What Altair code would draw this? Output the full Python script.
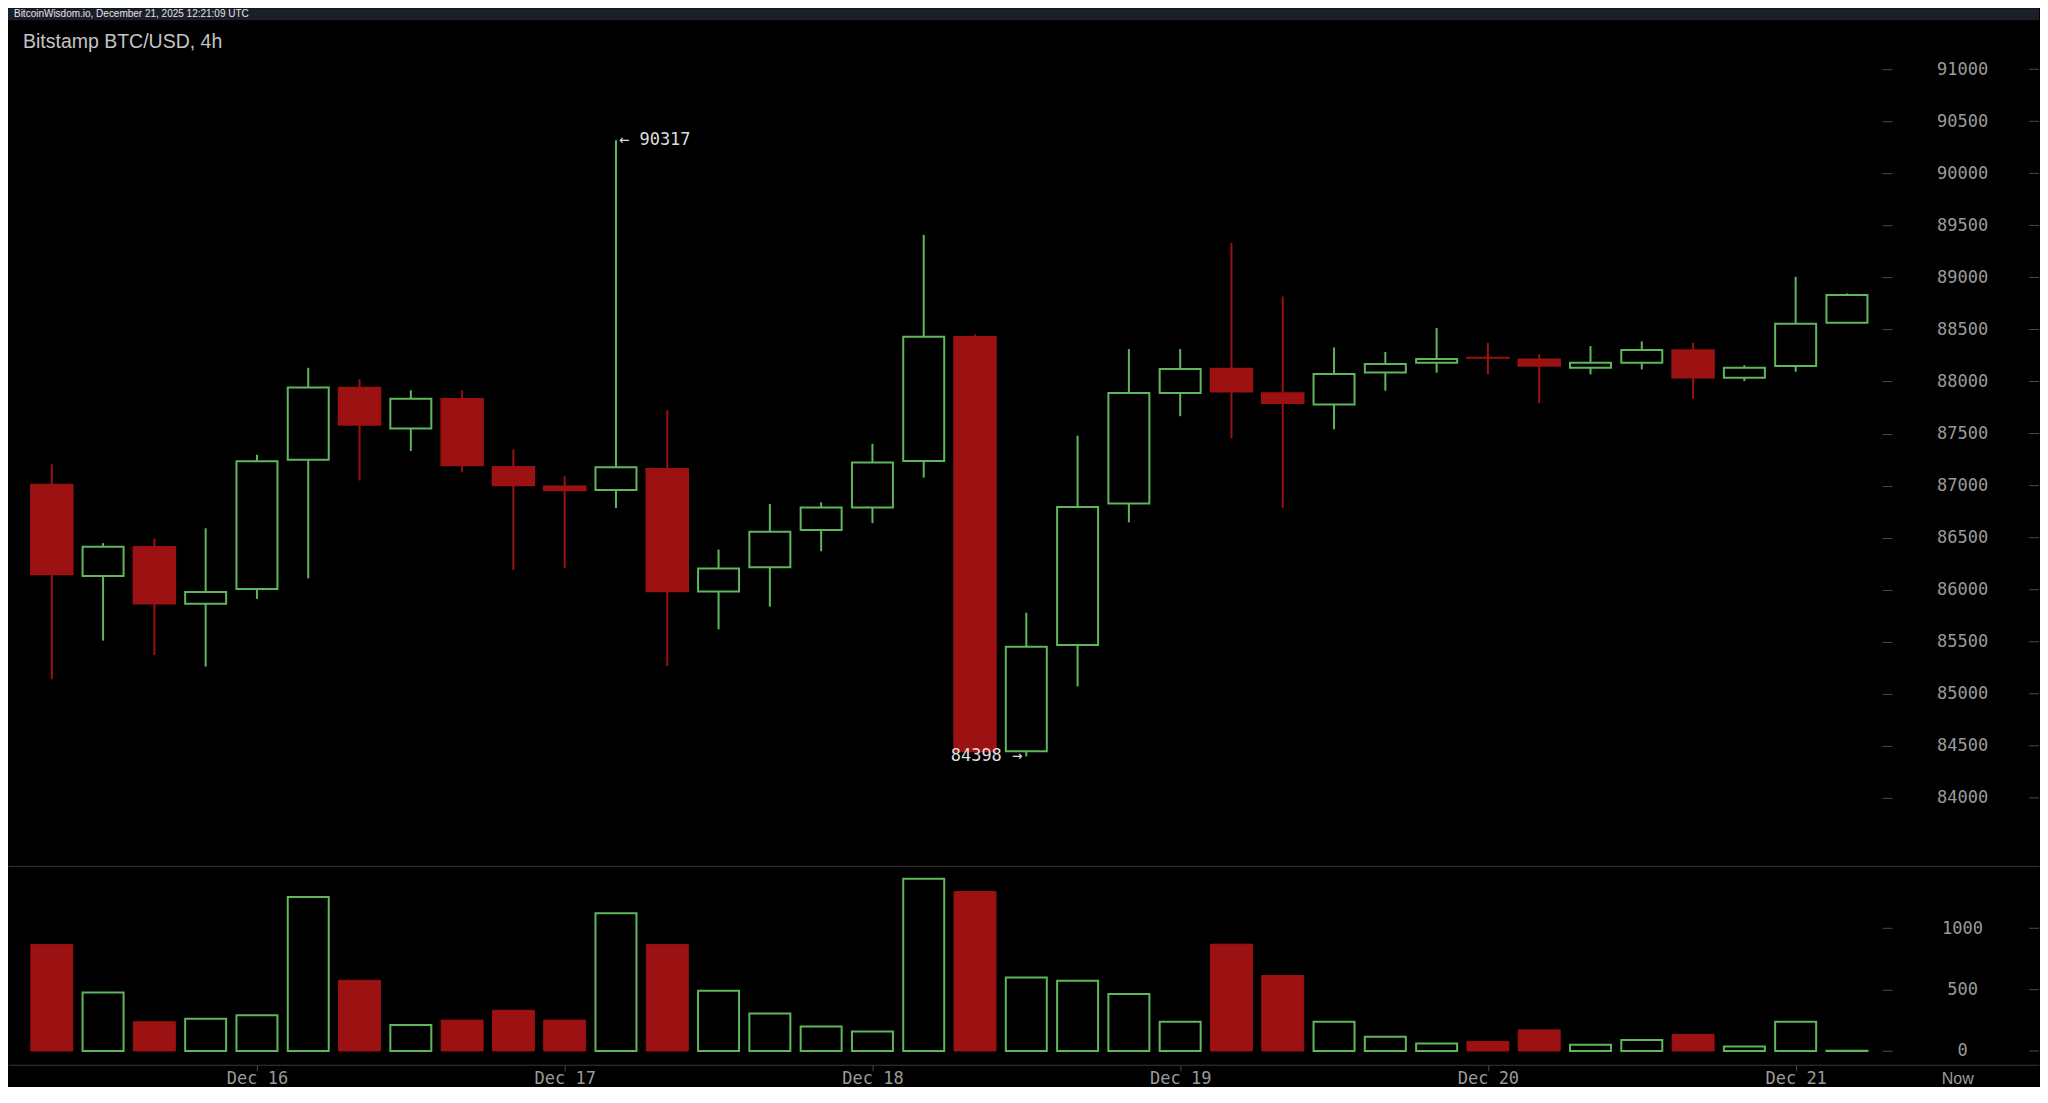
import altair as alt
import pandas as pd

header_text = "BitcoinWisdom.io, December 21, 2025 12:21:09 UTC"
title_text = "Bitstamp BTC/USD, 4h"

# 4h candles, Dec 15 08:00 ... Dec 21 04:00 (UTC)
opens = [87010, 86131, 86413, 85864, 86007, 87249, 87942, 87550, 87835, 87181,
         86994, 86957, 87161, 85982, 86215, 86573, 86790, 87236, 88430, 84449,
         85468, 86828, 87890, 88125, 87890, 87780, 88088, 88180, 88232, 88213,
         88133, 88181, 88303, 88037, 88149, 88565]
highs = [87205, 86447, 86491, 86590, 87297, 88132, 88022, 87916, 87916, 87348,
         87090, 90317, 87723, 86386, 86824, 86840, 87402, 89409, 88452, 85779,
         87480, 88312, 88312, 89331, 88817, 88327, 88283, 88514, 88373, 88261,
         88341, 88386, 88373, 88156, 89007, 88847]
lows = [85141, 85511, 85372, 85262, 85912, 86109, 87050, 87333, 87131, 86190,
        86211, 86786, 85266, 85620, 85837, 86370, 86640, 87077, 84430, 84398,
        85071, 86648, 87667, 87454, 86788, 87542, 87912, 88085, 88069, 87791,
        88069, 88117, 87835, 88005, 88094, 88565]
closes = [86146, 86413, 85864, 85977, 87234, 87942, 87582, 87835, 87193, 87002,
          86953, 87177, 85982, 86203, 86557, 86790, 87223, 88430, 84445, 85453,
          86794, 87890, 88121, 87901, 87791, 88073, 88169, 88216, 88226, 88149,
          88181, 88303, 88037, 88133, 88555, 88831]
volumes = [867, 476, 238, 263, 291, 1255, 576, 211, 252, 332,
           252, 1122, 867, 490, 305, 199, 158, 1404, 1299, 598,
           573, 465, 238, 870, 615, 238, 116, 61, 78, 172,
           50, 89, 136, 36, 238, 3]

x_tick_values = [4, 10, 16, 22, 28, 34, 37.15]
x_tick_labels = ["Dec 16", "Dec 17", "Dec 18", "Dec 19", "Dec 20", "Dec 21", "Now"]
price_tick_values = [84000, 84500, 85000, 85500, 86000, 86500, 87000, 87500,
                     88000, 88500, 89000, 89500, 90000, 90500, 91000]
volume_tick_values = [0, 500, 1000]

# ---- styling / layout ----
GREEN = "#5fb65c"
RED = "#9c1111"
HEADER = "#1b1f29"
LINE = "#3a3a3e"
TICK = "#4a4a4a"
LABEL = "#9a9a9a"
MONO = "DejaVu Sans Mono"
SANS = "Liberation Sans"

W = 2032
HP = 846
HV = 199
X_DOMAIN = [-0.7563, 38.647]
P_DOMAIN = [83347, 91471]
V_DOMAIN = [-112, 1508.5]

df = pd.DataFrame({
    "i": list(range(len(opens))),
    "open": opens, "high": highs, "low": lows, "close": closes,
    "volume": volumes,
})
one = pd.DataFrame({"k": [0]})

label_expr = " : ".join(
    f"abs(datum.value - {v}) < 0.01 ? '{l}'" for v, l in zip(x_tick_values, x_tick_labels)
) + " : ''"
is_now = "datum.value > 36"


def y_axis(values):
    return alt.Axis(values=values, orient="right", offset=-157, tickSize=10,
                    tickColor=TICK, tickWidth=1, domain=False, grid=False,
                    labelPadding=70, labelAlign="center", labelBaseline="middle",
                    labelFont=MONO, labelFontSize=17, labelColor=LABEL,
                    format="d", title=None, minExtent=0, labelOverlap=False)


price_axis = y_axis(price_tick_values)
vol_axis = y_axis(volume_tick_values)

x_scale = alt.Scale(domain=X_DOMAIN, nice=False, zero=False)
p_scale = alt.Scale(domain=P_DOMAIN, nice=False, zero=False)
v_scale = alt.Scale(domain=V_DOMAIN, nice=False, zero=False)

x_price = alt.X("i:Q", scale=x_scale,
                axis=alt.Axis(labels=False, ticks=False, domain=True, domainColor=LINE,
                              domainWidth=1, grid=False, title=None))
x_vol = alt.X("i:Q", scale=x_scale,
              axis=alt.Axis(values=x_tick_values, labelExpr=label_expr, tickSize=6,
                            tickColor={"condition": {"test": is_now, "value": "transparent"},
                                       "value": TICK},
                            domainColor=LINE, domainWidth=1, grid=False, title=None,
                            labelFont={"condition": {"test": is_now, "value": SANS},
                                       "value": MONO},
                            labelFontSize={"condition": {"test": is_now, "value": 16},
                                           "value": 17},
                            labelColor=LABEL,
                            labelPadding=0, labelFlush=False, labelOverlap=False))


def py(field):
    return alt.Y(f"{field}:Q", scale=p_scale, axis=price_axis, title=None)


def vy(field):
    return alt.Y(f"{field}:Q", scale=v_scale, axis=vol_axis, title=None)


base = alt.Chart(df)
up = "datum.close >= datum.open"
down = "datum.close < datum.open"

header_rect = alt.Chart(one).mark_rect(color=HEADER).encode(
    x=alt.value(0), x2=alt.value(W), y=alt.value(-12), y2=alt.value(0))
header_lbl = alt.Chart(one).mark_text(align="left", baseline="middle", font=SANS,
                                      fontSize=10, color="#e4e4e4").encode(
    x=alt.value(6), y=alt.value(-6), text=alt.value(header_text))
title_lbl = alt.Chart(one).mark_text(align="left", baseline="middle", font=SANS,
                                     fontSize=19.5, color="#c4c4c4").encode(
    x=alt.value(15), y=alt.value(22), text=alt.value(title_text))

wicks = base.mark_rule(strokeWidth=2).encode(
    x=x_price, y=py("low"), y2="high",
    color=alt.condition(up, alt.value(GREEN), alt.value(RED)))
up_body = base.transform_filter(up).mark_bar(
    size=41, fill="#000000", stroke=GREEN, strokeWidth=2, orient="vertical").encode(
    x=x_price, y=py("open"), y2="close")
down_body = base.transform_filter(down).mark_bar(
    size=42, fill=RED, stroke=RED, strokeWidth=1.5, orient="vertical").encode(
    x=x_price, y=py("open"), y2="close")

hi_lbl = base.transform_joinaggregate(mx="max(high)").transform_filter(
    "datum.high == datum.mx").transform_calculate(lbl="'← ' + datum.high").mark_text(
    align="left", baseline="middle", dx=3, font=MONO, fontSize=17, color="#dedede").encode(
    x=x_price, y=py("high"), text="lbl:N")
lo_lbl = base.transform_joinaggregate(mn="min(low)").transform_filter(
    "datum.low == datum.mn").transform_calculate(lbl="datum.low + ' →'").mark_text(
    align="right", baseline="middle", dx=-4, font=MONO, fontSize=17, color="#dedede").encode(
    x=x_price, y=py("low"), text="lbl:N")

p_dash = alt.Chart(pd.DataFrame({"v": price_tick_values})).mark_rule(
    color=TICK, strokeWidth=1).encode(y=py("v"), x=alt.value(W - 10), x2=alt.value(W))

price = alt.layer(header_rect, header_lbl, title_lbl, wicks, up_body, down_body,
                  hi_lbl, lo_lbl, p_dash).properties(width=W, height=HP)

vol_up = base.transform_filter(up).mark_bar(
    size=41, fill="#000000", stroke=GREEN, strokeWidth=2, orient="vertical").encode(
    x=x_vol, y=vy("volume"), y2=alt.datum(0))
vol_down = base.transform_filter(down).mark_bar(
    size=42, fill=RED, stroke=RED, strokeWidth=1, orient="vertical").encode(
    x=x_vol, y=vy("volume"), y2=alt.datum(0))
v_dash = alt.Chart(pd.DataFrame({"v": volume_tick_values})).mark_rule(
    color=TICK, strokeWidth=1).encode(y=vy("v"), x=alt.value(W - 10), x2=alt.value(W))

volume = alt.layer(vol_up, vol_down, v_dash).properties(width=W, height=HV)

chart = alt.vconcat(price, volume, spacing=0).properties(
    padding=0, background="#000000"
).configure_view(strokeWidth=0)

chart.save("out.html", embed_options={"renderer": "svg", "actions": False})
